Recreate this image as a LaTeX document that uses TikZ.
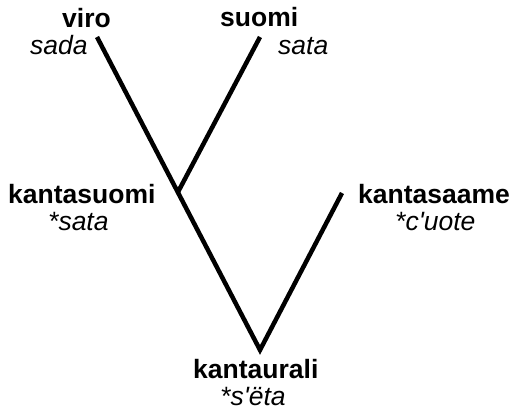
\documentclass[tikz,border=0pt]{standalone}
\usepackage{fontspec}
% plain family, so that ' stays a straight apostrophe
\newfontfamily\labelfont{Liberation Sans}
\begin{document}
\begin{tikzpicture}[x=1pt,y=-1pt,
  lang/.style={anchor=base west,inner sep=0pt,font=\labelfont\fontsize{26.5}{30}\selectfont\bfseries},
  word/.style={anchor=base west,inner sep=0pt,font=\labelfont\fontsize{26.5}{30}\selectfont\itshape},
  branch/.style={line width=4.5pt,line join=miter,line cap=butt}]
  \fill[white] (0,0) rectangle (514,412);
  \useasboundingbox (0,0) rectangle (514,412);

  % labels: language name and reconstructed word
  \node[lang] (viro) at (62,28) {viro};
  \node[word] (viroW) at (30,55) {sada};
  \node[lang] (suomi) at (220,27) {suomi};
  \node[word] (suomiW) at (278,55) {sata};
  \node[lang] (ksuomi) at (8,203) {kantasuomi};
  \node[word] (ksuomiW) at (48,230) {*sata};
  \node[lang] (ksaame) at (358,203) {kantasaame};
  \node[word] (ksaameW) at (395,230) {*c'uote};
  \node[lang] (kural) at (193,378) {kantaurali};
  \node[word] (kuralW) at (220,405) {*s'ëta};

  % tree branches
  \coordinate (viroEnd) at (97,37);
  \coordinate (suomiEnd) at (260,37);
  \coordinate (split) at (178,192);
  \coordinate (root) at (260,350);
  \coordinate (saameEnd) at (342,193);

  \draw[branch] (viroEnd) -- (root) -- (saameEnd);
  \draw[branch] (suomiEnd) -- (split);
\end{tikzpicture}
\end{document}
